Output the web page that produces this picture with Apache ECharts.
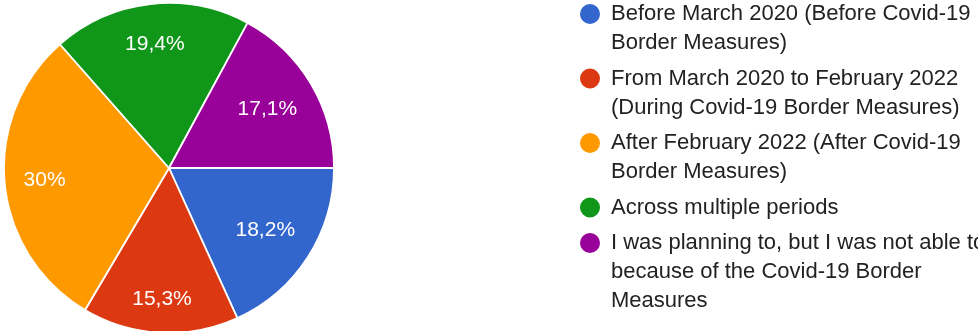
<!DOCTYPE html>
<html>
<head>
<meta charset="utf-8">
<script src="https://cdn.jsdelivr.net/npm/echarts@6/dist/echarts.min.js"></script>
<style>
html,body{margin:0;padding:0;background:#fff;}
#chart{width:978px;height:331px;}
</style>
</head>
<body>
<div id="chart"></div>
<script>
const categories = [
  "Before March 2020 (Before Covid-19\nBorder Measures)",
  "From March 2020 to February 2022\n(During Covid-19 Border Measures)",
  "After February 2022 (After Covid-19\nBorder Measures)",
  "Across multiple periods",
  "I was planning to, but I was not able to\nbecause of the Covid-19 Border\nMeasures"
];
const values = [18.2, 15.3, 30, 19.4, 17.1];
const colors = ["#3366cc", "#dc3912", "#ff9900", "#109618", "#990099"];

const chart = echarts.init(document.getElementById('chart'), null, {renderer: 'canvas'});

const LINE_H = 29, ITEM_GAP = 6.5, FIRST_CENTER = 14, ICON = 22;
const legends = [];
let center = FIRST_CENTER;
categories.forEach((name, i) => {
  const n = name.split('\n').length;
  const padTop = LINE_H * (n - 1);
  legends.push({
    orient: 'vertical',
    left: 578,
    top: center - 12,
    padding: 0,
    icon: 'circle',
    itemWidth: ICON,
    itemHeight: ICON,
    data: [name],
    formatter: nm => '{t|' + nm + '}',
    textStyle: {
      padding: [padTop, 0, 0, 5],
      rich: {
        t: {
          fontFamily: 'Liberation Sans, Arial, sans-serif',
          fontSize: 22,
          lineHeight: LINE_H,
          color: '#222'
        }
      }
    }
  });
  center += n * LINE_H + ITEM_GAP;
});

const pieData = categories.map((c, i) => ({name: c, value: values[i], itemStyle: {color: colors[i]}}));

// transparent copies of the pie used only to place the percentage labels;
// labels of slices pointing sideways sit closer to the centre than those pointing up/down
function labelSeries(radius, showIdx) {
  return {
    type: 'pie',
    center: [169, 168],
    radius: radius,
    startAngle: 0,
    clockwise: true,
    silent: true,
    avoidLabelOverlap: false,
    itemStyle: {color: 'transparent', borderWidth: 0},
    labelLine: {show: false},
    label: {
      show: true,
      position: 'inside',
      color: '#fff',
      fontFamily: 'Liberation Sans, Arial, sans-serif',
      fontSize: 21,
      formatter: p => String(p.value).replace('.', ',') + '%'
    },
    emphasis: {disabled: true},
    data: categories.map((c, i) => ({name: c, value: values[i], label: {show: showIdx.includes(i)}}))
  };
}

chart.setOption({
  animation: false,
  legend: legends,
  series: [
    {
      type: 'pie',
      center: [169, 168],
      radius: [0, 165],
      startAngle: 0,
      clockwise: true,
      avoidLabelOverlap: false,
      label: {show: false},
      labelLine: {show: false},
      itemStyle: {borderColor: '#fff', borderWidth: 1.8},
      emphasis: {disabled: true},
      data: pieData
    },
    labelSeries([58, 165], [0, 4]),
    labelSeries([79, 165], [2, 3]),
    labelSeries([91, 165], [1])
  ]
});
</script>
</body>
</html>
